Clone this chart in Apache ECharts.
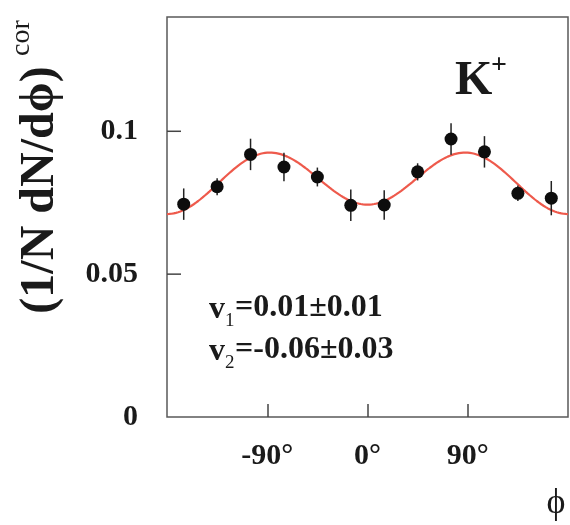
<!DOCTYPE html>
<html>
<head>
<meta charset="utf-8">
<script src="https://cdn.jsdelivr.net/npm/echarts@6/dist/echarts.min.js"></script>
<style>
  html, body { margin: 0; padding: 0; background: #fff; }
  #chart { width: 570px; height: 525px; }
</style>
</head>
<body>
<div id="chart"></div>
<script>
// Azimuthal distribution of K+ relative to the reaction plane
const phiBins = [-165, -135, -105, -75, -45, -15, 15, 45, 75, 105, 135, 165];
const yieldValues = [0.0745, 0.0806, 0.0919, 0.0875, 0.0840, 0.0741, 0.0742, 0.0858, 0.0973, 0.0928, 0.0783, 0.0766];
const yieldErrors = [0.0055, 0.0030, 0.0055, 0.0050, 0.0033, 0.0055, 0.0052, 0.0030, 0.0055, 0.0055, 0.0027, 0.0060];

// Fourier fit: N0 * (1 + 2 v1 cos(phi) + 2 v2 cos(2 phi))
const fitNorm = 0.0826;
const v1 = 0.01;
const v2 = -0.06;

const xTickValues = [-90, 0, 90];
const yTickValues = [0, 0.05, 0.1];

const fitCurve = [];
for (let p = -180; p <= 180; p += 2) {
  const r = p * Math.PI / 180;
  fitCurve.push([p, fitNorm * (1 + 2 * v1 * Math.cos(r) + 2 * v2 * Math.cos(2 * r))]);
}
const points = phiBins.map((p, i) => [p, yieldValues[i], yieldErrors[i]]);

const serif = '"Liberation Serif", "Times New Roman", serif';
const ink = '#1a1a1a';

const chart = echarts.init(document.getElementById('chart'));
chart.setOption({
  animation: false,
  backgroundColor: '#ffffff',
  grid: {
    left: 167, top: 17, right: 2, bottom: 108,
    show: true, borderColor: '#5a5a5a', borderWidth: 1.5, backgroundColor: 'transparent'
  },
  xAxis: {
    type: 'value', min: -180, max: 180, interval: 90,
    splitLine: { show: false },
    axisLine: { show: false, onZero: false },
    axisTick: { show: true, inside: true, length: 13, lineStyle: { color: '#444', width: 1.5 }, customValues: xTickValues },
    axisLabel: {
      customValues: xTickValues,
      margin: 24,
      color: ink, fontFamily: serif, fontWeight: 'bold', fontSize: 30,
      formatter: v => v + '°'
    }
  },
  yAxis: {
    type: 'value', min: 0, max: 0.14, interval: 0.05,
    splitLine: { show: false },
    axisLine: { show: false, onZero: false },
    axisTick: { show: false },
    axisLabel: {
      customValues: yTickValues,
      margin: 29,
      color: ink, fontFamily: serif, fontWeight: 'bold', fontSize: 30,
      formatter: v => String(v)
    }
  },
  series: [
    {
      // inward tick marks on the left frame edge
      type: 'custom', z: 1, silent: true,
      data: yTickValues.filter(v => v > 0).map(v => [-180, v]),
      renderItem: (params, api) => {
        const p = api.coord([api.value(0), api.value(1)]);
        return {
          type: 'line',
          shape: { x1: p[0], y1: p[1], x2: p[0] + 14, y2: p[1] },
          style: { stroke: '#444', lineWidth: 1.5 }
        };
      }
    },
    {
      type: 'line', data: fitCurve, showSymbol: false, smooth: false,
      lineStyle: { color: '#ee5a4c', width: 2.2 }, z: 2
    },
    {
      type: 'custom', z: 3,
      data: points,
      renderItem: (params, api) => {
        const x = api.value(0), y = api.value(1), e = api.value(2);
        const lo = api.coord([x, y - e]);
        const hi = api.coord([x, y + e]);
        return {
          type: 'line',
          shape: { x1: lo[0], y1: lo[1], x2: hi[0], y2: hi[1] },
          style: { stroke: '#222', lineWidth: 1.5 }
        };
      }
    },
    {
      type: 'scatter', data: points.map(d => [d[0], d[1]]),
      symbol: 'circle', symbolSize: 13,
      itemStyle: { color: '#0d0d0d', opacity: 1 }, z: 4
    }
  ],
  graphic: [
    // y-axis title
    { type: 'text', x: 41, y: 190, rotation: Math.PI / 2,
      style: { text: '(1/N dN/dϕ)', font: 'bold 48px ' + serif, align: 'center', verticalAlign: 'middle', fill: ink } },
    { type: 'text', x: 22, y: 38, rotation: Math.PI / 2,
      style: { text: 'cor', font: '28px ' + serif, align: 'center', verticalAlign: 'middle', fill: ink } },
    // particle label
    { type: 'text', x: 455, y: 82,
      style: { text: 'K', font: 'bold 48px ' + serif, align: 'left', verticalAlign: 'middle', fill: ink } },
    { type: 'text', x: 499, y: 66,
      style: { text: '+', font: 'bold 28px ' + serif, align: 'center', verticalAlign: 'middle', fill: ink } },
    // flow coefficients
    { type: 'text', x: 209, y: 310,
      style: { text: 'v', font: 'bold 32px ' + serif, align: 'left', verticalAlign: 'middle', fill: ink } },
    { type: 'text', x: 225, y: 321,
      style: { text: '1', font: '19px ' + serif, align: 'left', verticalAlign: 'middle', fill: ink } },
    { type: 'text', x: 235, y: 308,
      style: { text: '=0.01±0.01', font: 'bold 32px ' + serif, align: 'left', verticalAlign: 'middle', fill: ink } },
    { type: 'text', x: 209, y: 352,
      style: { text: 'v', font: 'bold 32px ' + serif, align: 'left', verticalAlign: 'middle', fill: ink } },
    { type: 'text', x: 225, y: 363,
      style: { text: '2', font: '19px ' + serif, align: 'left', verticalAlign: 'middle', fill: ink } },
    { type: 'text', x: 235, y: 350,
      style: { text: '=-0.06±0.03', font: 'bold 32px ' + serif, align: 'left', verticalAlign: 'middle', fill: ink } },
    // x-axis title
    { type: 'text', x: 556, y: 504,
      style: { text: 'ϕ', font: '36px ' + serif, align: 'center', verticalAlign: 'middle', fill: ink } }
  ]
});
</script>
</body>
</html>
